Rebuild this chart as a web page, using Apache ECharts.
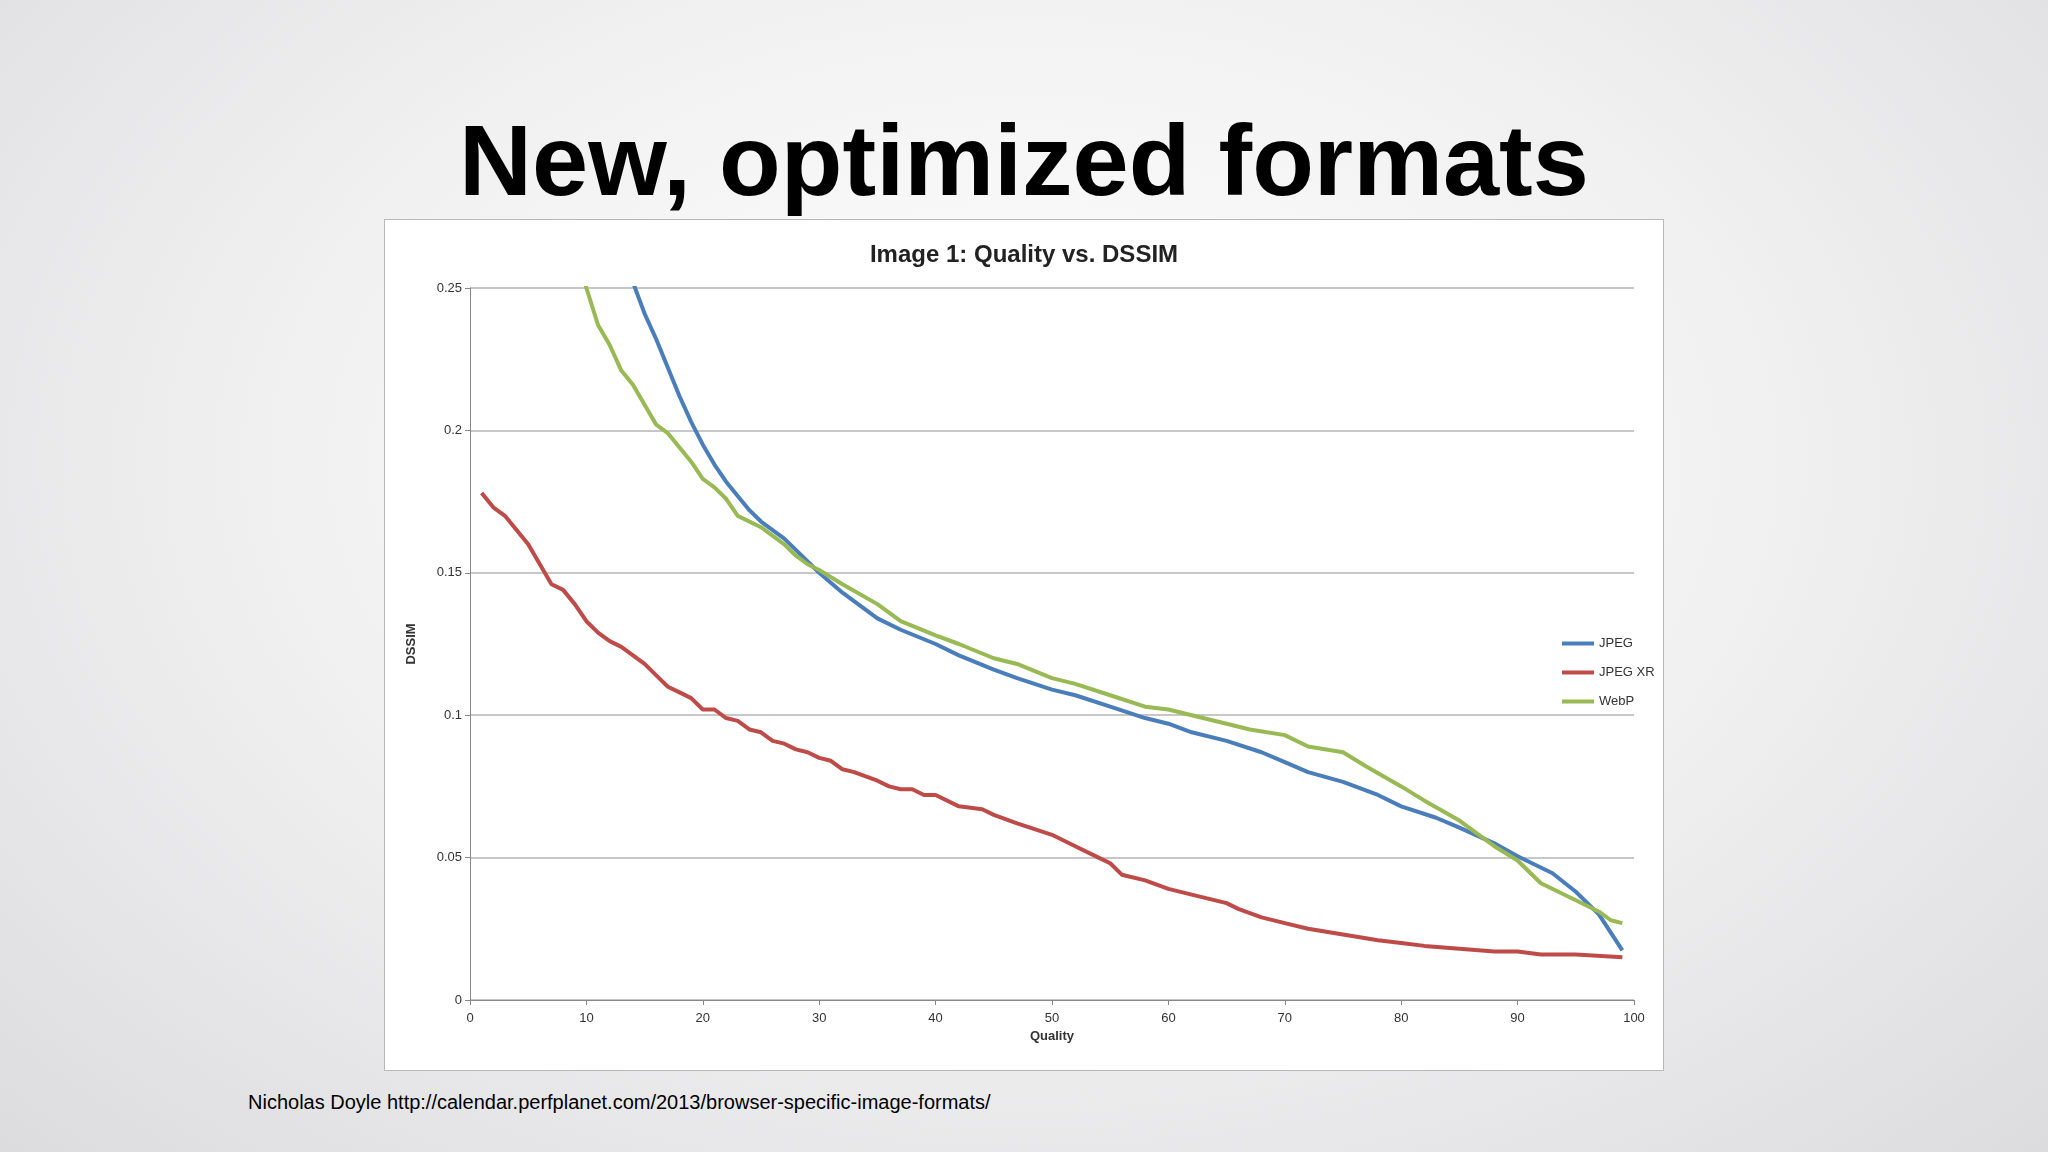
<!DOCTYPE html>
<html>
<head>
<meta charset="utf-8">
<title>New, optimized formats</title>
<script src="https://cdn.jsdelivr.net/npm/echarts@6/dist/echarts.min.js"></script>
<style>
  html, body { margin: 0; width: 2048px; height: 1152px; overflow: hidden;
    background: radial-gradient(ellipse at 50% 40%, #ffffff 0%, #f1f1f2 50%, #dcdcde 100%);
    font-family: "Liberation Sans", Arial, sans-serif; }
  #title { position: absolute; left: 0; width: 2048px; top: 103px; text-align: center;
    font-size: 101px; font-weight: bold; color: #000; }
  #chart { position: absolute; left: 384px; top: 219px; width: 1278px; height: 850px;
    background: #fff; border: 1px solid #b8b8b8; }
  #source { position: absolute; left: 248px; top: 1091px; font-size: 20px; color: #000; }
</style>
</head>
<body>
<div id="title">New, optimized formats</div>
<div id="chart"></div>
<div id="source">Nicholas Doyle http://calendar.perfplanet.com/2013/browser-specific-image-formats/</div>
<script>
  // [quality, dssim]
  var jpeg = [[10,0.33],[12,0.29],[13,0.27],[14,0.252],[15,0.241],[16,0.232],[17,0.222],[18,0.212],[19,0.203],
    [20,0.195],[21,0.188],[22,0.182],[23,0.177],[24,0.172],[25,0.168],[27,0.162],[30,0.15],[32,0.143],[35,0.134],
    [37,0.130],[40,0.125],[42,0.121],[45,0.116],[47,0.113],[50,0.109],[52,0.107],[55,0.103],[58,0.099],[60,0.097],
    [62,0.094],[65,0.091],[68,0.087],[70,0.0835],[72,0.080],[75,0.0766],[78,0.072],[80,0.068],[83,0.064],[85,0.0605],
    [88,0.055],[90,0.0505],[93,0.0445],[95,0.038],[97,0.030],[99,0.0174]];
  var jpegXR = [[1,0.178],[2,0.173],[3,0.170],[4,0.165],[5,0.160],[6,0.153],[7,0.146],[8,0.144],[9,0.139],[10,0.133],
    [11,0.129],[12,0.126],[13,0.124],[14,0.121],[15,0.118],[16,0.114],[17,0.110],[18,0.108],[19,0.106],[20,0.102],
    [21,0.102],[22,0.099],[23,0.098],[24,0.095],[25,0.094],[26,0.091],[27,0.090],[28,0.088],[29,0.087],[30,0.085],
    [31,0.084],[32,0.081],[33,0.080],[35,0.077],[36,0.075],[37,0.074],[38,0.074],[39,0.072],[40,0.072],[42,0.068],
    [44,0.067],[45,0.065],[47,0.062],[50,0.058],[52,0.054],[54,0.050],[55,0.048],[56,0.044],[58,0.042],[60,0.039],
    [62,0.037],[65,0.034],[66,0.032],[68,0.029],[70,0.027],[72,0.025],[75,0.023],[78,0.021],[80,0.020],[82,0.019],
    [85,0.018],[88,0.017],[90,0.017],[92,0.016],[95,0.016],[99,0.015]];
  var webp = [[8,0.28],[9,0.265],[10,0.25],[11,0.237],[12,0.230],[13,0.221],[14,0.216],[15,0.209],[16,0.202],[17,0.199],
    [18,0.194],[19,0.189],[20,0.183],[21,0.180],[22,0.176],[23,0.170],[25,0.166],[27,0.160],[28,0.156],[29,0.153],
    [30,0.151],[32,0.146],[35,0.139],[37,0.133],[40,0.128],[42,0.125],[45,0.120],[47,0.118],[50,0.113],[52,0.111],
    [55,0.107],[58,0.103],[60,0.102],[62,0.100],[65,0.097],[67,0.095],[70,0.093],[72,0.089],[75,0.087],[77,0.082],
    [80,0.075],[82,0.070],[85,0.063],[88,0.054],[90,0.049],[92,0.041],[95,0.035],[97,0.031],[98,0.028],[99,0.027]];
  var seriesNames = ['JPEG', 'JPEG XR', 'WebP'];
  var seriesColors = ['#4a7ebb', '#be4b48', '#98b954'];

  var chart = echarts.init(document.getElementById('chart'));
  var tickFont = { fontFamily: 'Liberation Sans', fontSize: 13, color: '#333' };
  var option = {
    animation: false,
    color: seriesColors,
    title: { text: 'Image 1: Quality vs. DSSIM', left: 'center', top: 18,
      textStyle: { fontFamily: 'Liberation Sans', fontSize: 24, fontWeight: 'bold', color: '#222' } },
    grid: { left: 85, right: 29, top: 68, bottom: 70 },
    legend: { orient: 'vertical', left: 1172, top: 412, itemGap: 16, itemWidth: 32, itemHeight: 4,
      icon: 'rect', data: seriesNames, textStyle: { fontFamily: 'Liberation Sans', fontSize: 13, color: '#333' } },
    xAxis: { type: 'value', min: 0, max: 100, interval: 10, name: 'Quality', nameLocation: 'middle', nameGap: 28,
      nameTextStyle: { fontFamily: 'Liberation Sans', fontSize: 13, fontWeight: 'bold', color: '#333' },
      axisLine: { lineStyle: { color: '#888' } }, axisTick: { show: true, lineStyle: { color: '#888' } },
      splitLine: { show: false }, axisLabel: Object.assign({ margin: 12 }, tickFont) },
    yAxis: { type: 'value', min: 0, max: 0.25, interval: 0.05, name: 'DSSIM', nameLocation: 'middle', nameGap: 52,
      nameTextStyle: { fontFamily: 'Liberation Sans', fontSize: 13, fontWeight: 'bold', color: '#333' },
      axisLine: { show: true, lineStyle: { color: '#888' } }, axisTick: { show: true, lineStyle: { color: '#888' } },
      splitLine: { lineStyle: { color: '#b5b5b5', width: 1.5 } },
      axisLabel: Object.assign({ formatter: function (v) { return String(+v.toFixed(2)); } }, tickFont) },
    series: [
      { name: seriesNames[0], type: 'line', data: jpeg, showSymbol: false, clip: true, lineStyle: { width: 4 } },
      { name: seriesNames[1], type: 'line', data: jpegXR, showSymbol: false, clip: true, lineStyle: { width: 4 } },
      { name: seriesNames[2], type: 'line', data: webp, showSymbol: false, clip: true, lineStyle: { width: 4 } }
    ]
  };
  chart.setOption(option);
</script>
</body>
</html>
